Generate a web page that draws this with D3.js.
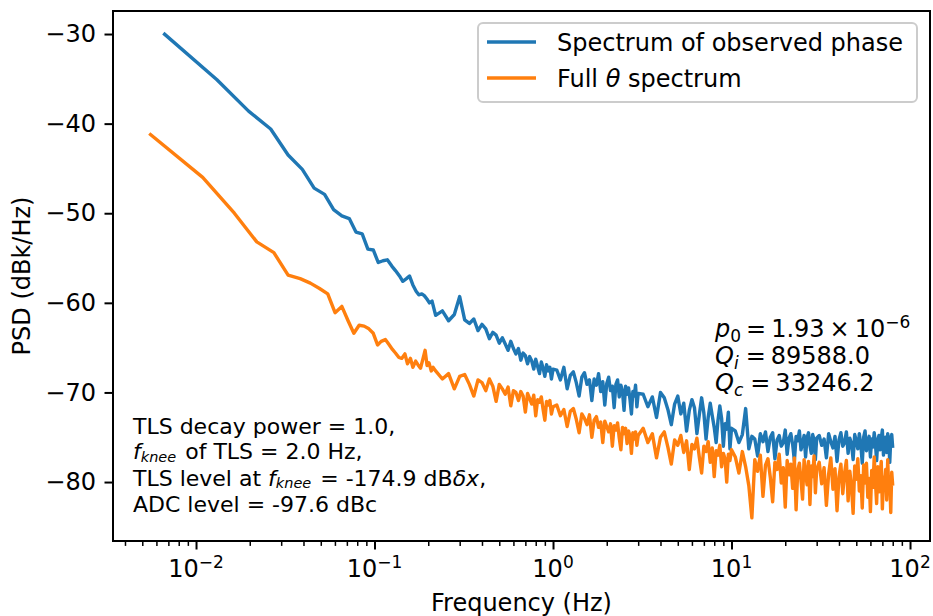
<!DOCTYPE html>
<html>
<head>
<meta charset="utf-8">
<title>PSD</title>
<style>
  body { margin: 0; background: #fff; }
  svg { display: block; font-family: "DejaVu Sans", sans-serif; }
</style>
</head>
<body>
<svg id="chart" width="933" height="616"></svg>
<script src="https://cdn.jsdelivr.net/npm/d3@7/dist/d3.min.js"></script>
<script>
// low frequency bins (Hz) and levels (dB)
const blueFreq = [0.00656, 0.0131, 0.0197, 0.0262, 0.0328, 0.0394, 0.0459, 0.0525, 0.0590, 0.0656, 0.0722, 0.0787, 0.0853, 0.0918, 0.0984, 0.105,
  0.1115, 0.118, 0.125, 0.131, 0.138, 0.144, 0.151, 0.157, 0.164, 0.171, 0.177, 0.184, 0.190, 0.197, 0.203, 0.210];
const bluePsd = [-29.9, -35.1, -38.6, -40.6, -43.5, -45.1, -47.2, -47.9, -49.6, -50.3, -50.6, -52.1, -52.3, -54.0, -54.1, -55.5,
  -55.3, -55.2, -55.9, -56.4, -57.0, -57.6, -57.3, -57.0, -58.0, -58.7, -59.1, -59.0, -59.2, -59.6, -60.0, -59.8];

const orangeFreq = [0.00547, 0.0109, 0.0164, 0.0219, 0.0273, 0.0328, 0.0383, 0.0437, 0.0492, 0.0547, 0.0601, 0.0656, 0.0711, 0.0766, 0.0820,
  0.0875, 0.0930, 0.0984, 0.104, 0.109, 0.115, 0.120, 0.126, 0.131, 0.137, 0.142, 0.148, 0.153, 0.159, 0.164, 0.170, 0.175, 0.181, 0.186,
  0.192, 0.197, 0.202, 0.208, 0.213];
const orangePsd = [-41.1, -46.0, -50.0, -53.2, -54.4, -56.9, -57.3, -57.8, -58.4, -59.0, -61.1, -60.4, -62.0, -63.4, -62.5,
  -62.6, -62.9, -63.4, -64.7, -64.3, -64.1, -64.6, -65.2, -65.6, -66.1, -66.2, -65.7, -66.8, -66.2, -67.2, -66.5, -66.9, -67.3, -66.4,
  -65.3, -67.0, -66.7, -67.6, -67.2];

// noisy part above 0.2 Hz, sampled on one grid for both curves
const tailFreq = [
  0.22, 0.24, 0.26, 0.28, 0.30, 0.32, 0.34, 0.36, 0.38, 0.40, 0.42, 0.44, 0.46, 0.48, 0.50, 0.52, 0.54, 0.56, 0.58, 0.60,
  0.62, 0.64, 0.66, 0.68, 0.70, 0.72, 0.74, 0.76, 0.78, 0.80, 0.82, 0.84, 0.86, 0.88, 0.90, 0.92, 0.94, 0.96, 0.98, 1.00,
  1.05, 1.10, 1.15, 1.20, 1.25, 1.30, 1.35, 1.40, 1.45, 1.50, 1.55, 1.60, 1.65, 1.70, 1.75, 1.80, 1.85, 1.90, 1.95, 2.00,
  2.05, 2.10, 2.15, 2.20, 2.25, 2.30, 2.35, 2.40, 2.45, 2.50, 2.55, 2.60, 2.65, 2.70, 2.75, 2.80, 2.85, 2.90, 2.95, 3.00,
  3.2, 3.4, 3.6, 3.8, 4.0, 4.2, 4.4, 4.6, 4.8, 5.0, 5.2, 5.4, 5.6, 5.8, 6.0, 6.2, 6.4, 6.6, 6.8, 7.0,
  7.2, 7.4, 7.6, 7.8, 8.0, 8.2, 8.4, 8.6, 8.8, 9.0, 9.2, 9.4, 9.6, 9.8, 10.0,
  10.5, 11, 11.5, 12, 12.5, 13, 13.5, 14, 14.5, 15, 15.5, 16, 16.5, 17, 17.5, 18, 18.5, 19, 19.5, 20,
  20.5, 21, 21.5, 22, 22.5, 23, 23.5, 24, 24.5, 25, 25.5, 26, 26.5, 27, 27.5, 28, 28.5, 29, 29.5, 30,
  31, 32, 33, 34, 35, 36, 37, 38, 39, 40, 41, 42, 43, 44, 45, 46, 47, 48, 49, 50,
  51, 52, 53, 54, 55, 56, 57, 58, 59, 60, 61, 62, 63, 64, 65, 66, 67, 68, 69, 70,
  71, 72, 73, 74, 75, 76, 77, 78, 79, 80];

const blueTail = [
  -61.4, -60.9, -62.0, -61.3, -59.3, -61.9, -62.3, -61.8, -63.1, -62.4, -62.9, -64.0, -63.3, -63.6, -64.5, -63.9, -64.6, -65.3, -64.3, -65.1,
  -65.7, -65.1, -66.4, -65.6, -65.9, -66.8, -66.0, -66.5, -67.4, -66.3, -67.1, -67.9, -66.6, -67.3, -68.2, -66.9, -67.6, -67.2, -68.5, -67.4,
  -67.5, -68.6, -67.2, -69.6, -68.1, -67.7, -68.9, -70.4, -68.3, -67.8, -69.1, -68.6, -70.9, -68.5, -69.2, -67.9, -69.9, -68.8, -71.4, -69.0,
  -68.3, -69.8, -69.3, -71.7, -69.1, -68.6, -70.5, -69.2, -69.9, -72.0, -69.3, -70.2, -69.5, -70.8, -72.4, -69.9, -70.4, -69.2, -71.6, -70.1,
  -70.2, -71.6, -70.5, -72.8, -70.0, -70.6, -71.9, -73.6, -71.3, -70.4, -72.4, -71.2, -74.3, -72.0, -70.8, -71.7, -74.6, -72.5, -70.6, -72.3,
  -75.2, -72.8, -71.2, -72.6, -73.9, -75.6, -73.1, -71.5, -72.9, -76.0, -73.5, -74.1, -72.2, -76.3, -74.0,
  -74.3, -75.6, -74.7, -71.8, -76.3, -74.9, -75.2, -77.1, -74.6, -75.5, -74.4, -76.6, -75.0, -74.5, -77.4, -75.3, -74.8, -76.0, -75.6, -74.2,
  -76.9, -75.1, -74.6, -75.8, -77.6, -74.9, -75.4, -74.3, -76.4, -75.7, -74.8, -77.2, -75.0, -74.5, -75.9, -76.8, -74.7, -75.3, -77.5, -75.1,
  -74.8, -75.9, -75.2, -77.3, -74.6, -75.5, -76.2, -74.9, -77.7, -75.3, -74.5, -76.0, -75.6, -74.4, -76.8, -75.1, -75.7, -77.5, -74.7, -75.4,
  -76.3, -74.6, -75.8, -77.9, -75.0, -74.3, -76.5, -75.5, -74.9, -77.2, -75.2, -76.1, -74.5, -75.7, -77.6, -75.3, -74.8, -76.4, -75.1, -74.2,
  -77.0, -75.6, -75.0, -76.7, -74.6, -75.4, -77.8, -75.2, -74.7, -76.2];

const orangeTail = [
  -67.6, -68.5, -67.9, -69.6, -68.2, -68.0, -69.1, -70.4, -68.6, -68.9, -69.8, -68.5, -69.3, -71.0, -69.1, -69.6, -70.2, -69.4, -71.5, -69.8,
  -70.0, -70.9, -69.9, -70.4, -72.2, -70.1, -70.7, -71.3, -70.3, -72.6, -70.8, -71.1, -70.5, -71.9, -73.1, -71.0, -71.4, -70.9, -72.4, -71.6,
  -71.4, -72.6, -71.9, -73.8, -72.1, -71.8, -73.0, -74.5, -72.4, -72.9, -73.6, -72.5, -75.0, -73.1, -72.7, -73.9, -73.3, -75.6, -73.2, -73.8,
  -74.4, -73.5, -76.0, -73.7, -74.2, -73.4, -75.1, -76.4, -73.9, -74.6, -74.0, -75.7, -74.3, -74.9, -76.8, -74.5, -75.2, -74.4, -75.9, -74.8,
  -74.0, -75.6, -74.6, -77.3, -75.0, -74.4, -76.1, -78.0, -75.3, -75.9, -74.8, -76.7, -75.4, -78.6, -75.8, -76.3, -75.1, -77.2, -79.0, -76.0,
  -76.6, -75.5, -77.8, -76.2, -79.4, -76.5, -77.0, -75.9, -78.3, -76.8, -77.4, -80.0, -76.9, -77.6, -76.4,
  -77.2, -79.0, -76.6, -78.3, -80.4, -84.0, -77.5, -78.8, -77.0, -81.6, -78.1, -77.4, -79.5, -82.2, -77.8, -78.6, -76.9, -80.1, -78.4, -82.8,
  -77.6, -79.2, -78.0, -80.7, -77.3, -83.1, -78.7, -77.9, -79.8, -81.9, -77.5, -78.9, -80.3, -77.7, -82.5, -78.2, -79.4, -77.1, -81.2, -78.6,
  -77.8, -80.2, -78.4, -82.6, -79.1, -77.3, -80.8, -78.5, -83.2, -79.4, -78.0, -81.3, -79.0, -77.6, -82.1, -78.8, -80.5, -83.5, -78.2, -79.7,
  -77.4, -81.0, -79.3, -82.9, -78.1, -80.1, -77.9, -81.7, -79.6, -83.3, -78.7, -80.6, -77.2, -79.9, -82.4, -78.3, -81.1, -79.2, -77.7, -83.0,
  -79.5, -80.3, -78.6, -82.0, -77.5, -80.9, -79.8, -83.4, -78.9, -80.4];

const xMajor = [0.01, 0.1, 1, 10, 100];
const xMajorExp = ["\u22122", "\u22121", "0", "1", "2"];
const yTicks = [-30, -40, -50, -60, -70, -80];
const legendNames = ["Spectrum of observed phase", "Full \u03b8 spectrum"];
const colors = ["#1f77b4", "#ff7f0e"];

let svg = d3.select("#chart")
let pLeft = 113, pRight = 930, pTop = 11, pBottom = 541

let x = d3.scaleLog().domain([0.003427, 129.4]).range([pLeft, pRight])
let y = d3.scaleLinear().domain([-86.58, -27.43]).range([pBottom, pTop])

svg.append("clipPath").attr("id", "plotclip")
  .append("rect").attr("x", pLeft).attr("y", pTop).attr("width", pRight - pLeft).attr("height", pBottom - pTop)

// build the two series
let blueAll = blueFreq.concat(tailFreq).map((f, i) => [f, bluePsd.concat(blueTail)[i]])
let orangeAll = orangeFreq.concat(tailFreq).map((f, i) => [f, orangePsd.concat(orangeTail)[i]])

let line = d3.line().x(d => x(d[0])).y(d => y(d[1]))

let plot = svg.append("g").attr("clip-path", "url(#plotclip)")
;[blueAll, orangeAll].forEach((s, i) => {
  plot.append("path").datum(s)
    .attr("d", line)
    .attr("fill", "none")
    .attr("stroke", colors[i])
    .attr("stroke-width", 3.4)
    .attr("stroke-linejoin", "round")
})

// x axis: minor then major ticks
let minor = x.ticks().filter(v => Math.abs(Math.log10(v) - Math.round(Math.log10(v))) > 1e-6)
let xMinorG = svg.append("g").attr("transform", `translate(0,${pBottom})`)
  .call(d3.axisBottom(x).tickValues(minor).tickSize(4.9).tickFormat(""))
xMinorG.select(".domain").remove()
xMinorG.selectAll("line").attr("stroke", "#000").attr("stroke-width", 1.5)

let xMajorG = svg.append("g").attr("transform", `translate(0,${pBottom})`)
  .call(d3.axisBottom(x).tickValues(xMajor).tickSize(8.5).tickFormat(""))
xMajorG.select(".domain").remove()
xMajorG.selectAll("line").attr("stroke", "#000").attr("stroke-width", 2)

xMajor.forEach((v, i) => {
  let t = svg.append("text")
    .attr("x", x(v)).attr("y", 577)
    .attr("text-anchor", "middle")
    .attr("font-size", 24)
  t.append("tspan").text("10")
  t.append("tspan").attr("font-size", 17).attr("dy", -9).text(xMajorExp[i])
})

// y axis
let yG = svg.append("g").attr("transform", `translate(${pLeft},0)`)
  .call(d3.axisLeft(y).tickValues(yTicks).tickSize(8.5).tickPadding(8.5).tickFormat(d => "\u2212" + Math.abs(d)))
yG.select(".domain").remove()
yG.selectAll("line").attr("stroke", "#000").attr("stroke-width", 2)
yG.selectAll("text").attr("font-size", 24).attr("font-family", "DejaVu Sans").attr("fill", "#000")

// axis labels
svg.append("text").attr("x", (pLeft + pRight) / 2).attr("y", 611)
  .attr("text-anchor", "middle").attr("font-size", 24).text("Frequency (Hz)")
svg.append("text").attr("transform", `translate(30,${(pTop + pBottom) / 2}) rotate(-90)`)
  .attr("text-anchor", "middle").attr("font-size", 24).text("PSD (dBk/Hz)")

// left annotation
let note = svg.append("g").attr("font-size", 22)
note.append("text").attr("x", 133).attr("y", 433.5).text("TLS decay power = 1.0,")
let l2 = note.append("text").attr("x", 133).attr("y", 459)
l2.append("tspan").attr("font-style", "italic").text("f")
l2.append("tspan").attr("font-style", "italic").attr("font-size", 14.5).attr("dy", 2.5).text("knee")
l2.append("tspan").attr("dy", -2.5).attr("dx", 2).text(" of TLS = 2.0 Hz,")
let l3 = note.append("text").attr("x", 133).attr("y", 485.5)
l3.append("tspan").text("TLS level at ")
l3.append("tspan").attr("font-style", "italic").text("f")
l3.append("tspan").attr("font-style", "italic").attr("font-size", 14.5).attr("dy", 2.5).text("knee")
l3.append("tspan").attr("dy", -2.5).attr("dx", 2).text(" = -174.9 dB")
l3.append("tspan").attr("font-style", "italic").text("\u03b4x")
l3.append("tspan").text(",")
note.append("text").attr("x", 133).attr("y", 512).text("ADC level = -97.6 dBc")

// right annotation (fit results), math-style spacing
let fit = svg.append("g").attr("font-size", 24)
let r1 = fit.append("text").attr("x", 715).attr("y", 337)
r1.append("tspan").attr("font-style", "italic").text("p")
r1.append("tspan").attr("font-size", 17).attr("dy", 5).text("0")
r1.append("tspan").attr("dy", -5).attr("dx", 5).text("=")
r1.append("tspan").attr("dx", 5).text("1.93")
r1.append("tspan").attr("dx", 5).text("\u00d7")
r1.append("tspan").attr("dx", 5).text("10")
r1.append("tspan").attr("font-size", 17).attr("dy", -9).text("\u22126")
let r2 = fit.append("text").attr("x", 715).attr("y", 364)
r2.append("tspan").attr("font-style", "italic").text("Q")
r2.append("tspan").attr("font-style", "italic").attr("font-size", 17).attr("dy", 5).text("i")
r2.append("tspan").attr("dy", -5).attr("dx", 7).text("=")
r2.append("tspan").attr("dx", 5).text("89588.0")
let r3 = fit.append("text").attr("x", 715).attr("y", 391)
r3.append("tspan").attr("font-style", "italic").text("Q")
r3.append("tspan").attr("font-style", "italic").attr("font-size", 17).attr("dy", 5).text("c")
r3.append("tspan").attr("dy", -5).attr("dx", 7).text("=")
r3.append("tspan").attr("dx", 5).text("33246.2")

// legend
let leg = svg.append("g")
leg.append("rect").attr("x", 478).attr("y", 23).attr("width", 439).attr("height", 79).attr("rx", 5)
  .attr("fill", "#fff").attr("fill-opacity", 0.8).attr("stroke", "#cccccc").attr("stroke-width", 2)
legendNames.forEach((name, i) => {
  let cy = 42 + i * 36
  leg.append("line").attr("x1", 487).attr("x2", 536).attr("y1", cy).attr("y2", cy)
    .attr("stroke", colors[i]).attr("stroke-width", 3.4)
  let t = leg.append("text").attr("x", 557).attr("y", cy + 8.5).attr("font-size", 24)
  if (name.indexOf("\u03b8") >= 0) {
    let parts = name.split("\u03b8")
    t.append("tspan").text(parts[0])
    t.append("tspan").attr("font-style", "italic").text("\u03b8")
    t.append("tspan").text(parts[1])
  } else {
    t.text(name)
  }
})

// axes frame on top
svg.append("rect").attr("x", pLeft).attr("y", pTop).attr("width", pRight - pLeft).attr("height", pBottom - pTop)
  .attr("fill", "none").attr("stroke", "#000").attr("stroke-width", 2)
</script>
</body>
</html>
